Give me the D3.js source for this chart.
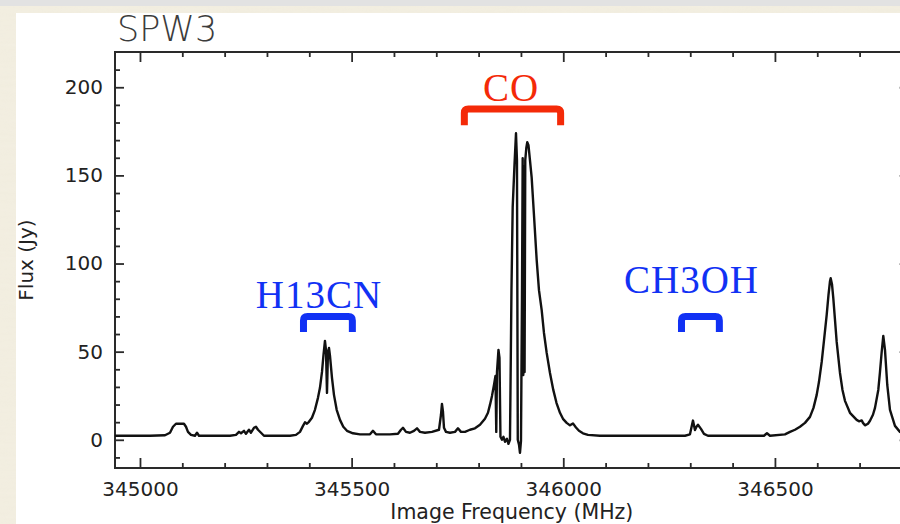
<!DOCTYPE html>
<html>
<head>
<meta charset="utf-8">
<script src="https://cdn.jsdelivr.net/npm/d3@7"></script>
<style>
  html, body { margin: 0; padding: 0; background: #f2eee1; }
  svg { display: block; }
</style>
</head>
<body>
<svg id="chart" width="900" height="524"></svg>
<script>
// Spectral window 3: flux density against image frequency
const freqMHz = [
  344940.9, 344976.4, 345023.6, 345059.1, 345070.9, 345078.0, 345085.0, 345094.5, 345103.9, 345108.7,
  345113.4, 345120.5, 345129.9, 345134.7, 345139.4, 345165.4, 345212.6, 345226.8, 345233.9, 345238.6,
  345245.7, 345250.4, 345257.5, 345262.2, 345269.3, 345274.0, 345278.8, 345285.9, 345292.9, 345307.1,
  345354.4, 345368.5, 345378.0, 345385.1, 345389.8, 345394.5, 345399.2, 345406.3, 345413.4, 345420.5,
  345425.2, 345430.0, 345433.5, 345437.0, 345439.4, 345441.8, 345444.1, 345446.5, 345448.9, 345453.6,
  345458.3, 345464.7, 345472.5, 345480.3, 345489.0, 345503.2, 345519.7, 345543.4, 345550.4, 345557.5,
  345590.6, 345609.5, 345616.6, 345621.3, 345628.4, 345637.8, 345647.3, 345654.4, 345661.5, 345673.3,
  345689.8, 345706.4, 345711.1, 345713.4, 345715.8, 345718.2, 345722.9, 345732.3, 345744.2, 345751.2,
  345758.3, 345767.8, 345779.6, 345791.4, 345803.2, 345815.0, 345822.1, 345826.8, 345831.6, 345836.3,
  345839.8, 345841.7, 345843.4, 345846.9, 345849.3, 345851.6, 345855.2, 345858.7, 345862.3, 345867.0,
  345870.5, 345874.1, 345877.6, 345880.5, 345884.7, 345888.3, 345890.6, 345892.5, 345895.4, 345897.7,
  345900.1, 345902.4, 345904.1, 345905.5, 345907.2, 345908.6, 345910.2, 345912.6, 345914.9, 345917.8,
  345921.3, 345925.3, 345930.8, 345937.2, 345942.6, 345949.0, 345954.4, 345960.8, 345968.6, 345976.4,
  345983.9, 345992.2, 345999.3, 346008.0, 346015.8, 346022.9, 346030.0, 346037.1, 346046.5, 346058.4,
  346086.7, 346181.2, 346287.5, 346299.3, 346306.4, 346311.1, 346314.7, 346318.2, 346325.3, 346332.4,
  346341.8, 346417.4, 346474.1, 346481.2, 346488.3, 346523.7, 346535.6, 346547.4, 346559.2, 346571.0,
  346582.8, 346591.1, 346598.7, 346604.1, 346610.5, 346616.0, 346622.3, 346626.5, 346630.1, 346631.7,
  346634.8, 346637.9, 346641.9, 346645.9, 346653.7, 346659.6, 346665.5, 346677.3, 346693.1, 346698.6,
  346705.0, 346708.0, 346712.7, 346719.8, 346724.6, 346731.6, 346736.4, 346744.2, 346748.2, 346752.2,
  346756.0, 346760.0, 346765.4, 346771.8, 346783.6, 346795.4, 346807.2, 346814.3
];
const fluxJy = [
  2.3, 2.3, 2.3, 2.6, 4.0, 7.4, 9.1, 9.1, 9.1, 7.4,
  4.5, 2.8, 2.3, 4.0, 2.3, 2.3, 2.3, 2.8, 4.5, 3.7,
  5.1, 3.4, 5.7, 4.0, 6.8, 7.4, 5.7, 4.0, 2.3, 2.3,
  2.3, 2.8, 4.5, 7.9, 9.9, 9.1, 10.2, 12.5, 17.0, 23.8,
  29.5, 38.5, 48.1, 56.1, 51.0, 26.6, 49.8, 52.1, 47.6, 35.1,
  25.5, 17.0, 11.3, 7.4, 5.1, 3.7, 3.1, 3.1, 5.1, 3.1,
  3.1, 3.4, 5.7, 6.8, 4.5, 4.0, 5.1, 6.5, 4.5, 4.0,
  4.5, 5.7, 14.2, 20.4, 15.9, 6.8, 4.5, 4.0, 4.5, 6.5,
  4.5, 4.5, 5.7, 6.5, 8.5, 11.9, 15.3, 19.8, 24.9, 31.1,
  36.2, 4.5, 38.5, 51.0, 46.4, 1.7, 0.0, 1.7, -1.1, 0.6,
  -2.3, 0.0, 85.0, 132.0, 155.7, 173.9, 158.6, 0.0, -2.8, -7.4,
  -0.6, 79.3, 159.7, 36.8, 155.2, 38.5, 158.6, 165.4, 168.8, 167.1,
  158.6, 148.9, 127.4, 101.9, 84.9, 73.6, 60.6, 49.3, 37.9, 28.3,
  21.0, 15.3, 11.9, 9.6, 8.2, 9.3, 7.0, 5.1, 3.7, 2.8,
  2.3, 2.3, 2.3, 3.1, 10.9, 5.5, 7.4, 8.5, 6.2, 3.4,
  2.3, 2.3, 2.3, 3.7, 2.3, 3.1, 4.5, 5.7, 7.4, 9.6,
  13.0, 18.1, 25.5, 32.9, 44.2, 56.6, 70.8, 82.1, 90.0, 91.7,
  88.3, 80.4, 68.0, 55.5, 37.9, 28.3, 22.1, 15.3, 11.3, 10.5,
  11.0, 9.6, 8.2, 9.1, 10.8, 14.2, 18.1, 28.3, 38.5, 49.8,
  58.9, 51.0, 31.1, 17.0, 7.9, 4.5, 3.4, 2.8
];

// Axis ticks
const xMajorTicks = [345000, 345500, 346000, 346500];
const xMinorTicks = d3.range(345000, 346801, 100).filter(v => v % 500 !== 0);
const yMajorTicks = [0, 50, 100, 150, 200];
const yMinorTicks = d3.range(-10, 211, 10).filter(v => v % 50 !== 0);

// Molecular line annotations (frequency span in MHz, bracket levels in Jy)
const lineNames  = ["H13CN", "CO", "CH3OH"];
const lineLoMHz  = [345378, 345758, 346271];
const lineHiMHz  = [345510, 346002, 346377];
const lineTextMHz = [345423, 345877, 346303];
const bracketTopJy = [71.9, 189.7, 71.9];
const bracketFootJy = [61.2, 178.4, 61.2];
const textBaseJy = [74.8, 192.0, 83.3];
const lineColors = ["#1131f4", "#f42a08", "#1131f4"];

const svg = d3.select("#chart");
const W = 900, H = 524;

// Page backdrop: grey strip, textured cream border, white panel
const defs = svg.append("defs");
const grain = defs.append("filter").attr("id", "grain")
  .attr("x", 0).attr("y", 0).attr("width", "100%").attr("height", "100%");
grain.append("feTurbulence").attr("type", "fractalNoise")
  .attr("baseFrequency", "0.015 0.25").attr("numOctaves", 2).attr("seed", 4).attr("result", "n");
grain.append("feColorMatrix").attr("in", "n").attr("type", "matrix")
  .attr("values", "0 0 0 0 0.80  0 0 0 0 0.76  0 0 0 0 0.62  0 0 0 0.35 0");

svg.append("rect").attr("width", W).attr("height", H).attr("fill", "#f3efe2");
svg.append("rect").attr("width", W).attr("height", H).attr("filter", "url(#grain)").attr("opacity", 0.55);
svg.append("rect").attr("x", 0).attr("y", 0).attr("width", W).attr("height", 6).attr("fill", "#e2e2e2");
svg.append("rect").attr("x", 16).attr("y", 13).attr("width", W - 16).attr("height", H - 13).attr("fill", "#ffffff");

// Plot frame
const plotLeft = 115, plotTop = 52, plotBottom = 468;
const xDomain = [344941, 346816];
const plotRight = plotLeft + (xDomain[1] - xDomain[0]) * 0.4233;

const x = d3.scaleLinear().domain(xDomain).range([plotLeft, plotRight]);
const y = d3.scaleLinear().domain([-16, 220]).range([plotBottom, plotTop]);

const axisColor = "#2a2a2a";
const tickFont = "'DejaVu Sans', 'Liberation Sans', sans-serif";

function styleAxis(g) {
  g.select(".domain").remove();
  g.selectAll(".tick line").attr("stroke", axisColor).attr("stroke-width", 1.8);
  g.selectAll(".tick text").attr("fill", "#222").attr("font-size", 20)
    .attr("font-family", tickFont);
}

// Bottom axis
svg.append("g").attr("transform", `translate(0,${plotBottom})`)
  .call(d3.axisBottom(x).tickValues(xMajorTicks).tickSizeInner(-10).tickSizeOuter(0)
    .tickPadding(14).tickFormat(d3.format("d")))
  .call(styleAxis);
svg.append("g").attr("transform", `translate(0,${plotBottom})`)
  .call(d3.axisBottom(x).tickValues(xMinorTicks).tickSizeInner(-5).tickSizeOuter(0).tickFormat(""))
  .call(styleAxis);

// Top axis (ticks only)
svg.append("g").attr("transform", `translate(0,${plotTop})`)
  .call(d3.axisTop(x).tickValues(xMajorTicks).tickSizeInner(-10).tickSizeOuter(0).tickFormat(""))
  .call(styleAxis);
svg.append("g").attr("transform", `translate(0,${plotTop})`)
  .call(d3.axisTop(x).tickValues(xMinorTicks).tickSizeInner(-5).tickSizeOuter(0).tickFormat(""))
  .call(styleAxis);

// Left axis
svg.append("g").attr("transform", `translate(${plotLeft},0)`)
  .call(d3.axisLeft(y).tickValues(yMajorTicks).tickSizeInner(-9).tickSizeOuter(0)
    .tickPadding(12).tickFormat(d3.format("d")))
  .call(styleAxis);
svg.append("g").attr("transform", `translate(${plotLeft},0)`)
  .call(d3.axisLeft(y).tickValues(yMinorTicks).tickSizeInner(-5).tickSizeOuter(0).tickFormat(""))
  .call(styleAxis);

// Right axis (ticks only)
svg.append("g").attr("transform", `translate(${plotRight},0)`)
  .call(d3.axisRight(y).tickValues(yMajorTicks).tickSizeInner(-9).tickSizeOuter(0).tickFormat(""))
  .call(styleAxis);
svg.append("g").attr("transform", `translate(${plotRight},0)`)
  .call(d3.axisRight(y).tickValues(yMinorTicks).tickSizeInner(-5).tickSizeOuter(0).tickFormat(""))
  .call(styleAxis);

// Box
svg.append("rect")
  .attr("x", plotLeft).attr("y", plotTop)
  .attr("width", plotRight - plotLeft).attr("height", plotBottom - plotTop)
  .attr("fill", "none").attr("stroke", axisColor).attr("stroke-width", 2);

// Spectrum
const pts = freqMHz.map((f, i) => [f, fluxJy[i]]);
svg.append("path")
  .datum(pts)
  .attr("d", d3.line().x(d => x(d[0])).y(d => y(d[1])))
  .attr("fill", "none").attr("stroke", "#111").attr("stroke-width", 2.4)
  .attr("stroke-linejoin", "round");

// Titles
svg.append("text").attr("x", 117).attr("y", 41)
  .attr("font-family", tickFont).attr("font-size", 35).attr("font-weight", 200)
  .attr("fill", "#3c3c3c").text("SPW3");

svg.append("text").attr("x", (plotLeft + plotRight) / 2).attr("y", 519)
  .attr("text-anchor", "middle").attr("font-family", tickFont).attr("font-size", 20.5)
  .attr("fill", "#222").text("Image Frequency (MHz)");

svg.append("text")
  .attr("transform", `translate(33,${(plotTop + plotBottom) / 2}) rotate(-90)`)
  .attr("text-anchor", "middle").attr("font-family", tickFont).attr("font-size", 20)
  .attr("fill", "#222").text("Flux (Jy)");

// Line identifications: label and bracket
const sw = 7;
lineNames.forEach((name, i) => {
  const x0 = x(lineLoMHz[i]) + sw / 2, x1 = x(lineHiMHz[i]) - sw / 2;
  const yt = y(bracketTopJy[i]) + sw / 2, yf = y(bracketFootJy[i]);
  const r = 4;
  svg.append("path")
    .attr("d", `M${x0},${yf} V${yt + r} Q${x0},${yt} ${x0 + r},${yt} H${x1 - r} Q${x1},${yt} ${x1},${yt + r} V${yf}`)
    .attr("fill", "none").attr("stroke", lineColors[i]).attr("stroke-width", sw)
    .attr("stroke-linejoin", "round");
  svg.append("text")
    .attr("x", x(lineTextMHz[i])).attr("y", y(textBaseJy[i]))
    .attr("text-anchor", "middle")
    .attr("font-family", "'Liberation Serif', 'Times New Roman', serif")
    .attr("font-size", 39).attr("letter-spacing", 1)
    .attr("fill", lineColors[i]).text(name);
});
</script>
</body>
</html>
